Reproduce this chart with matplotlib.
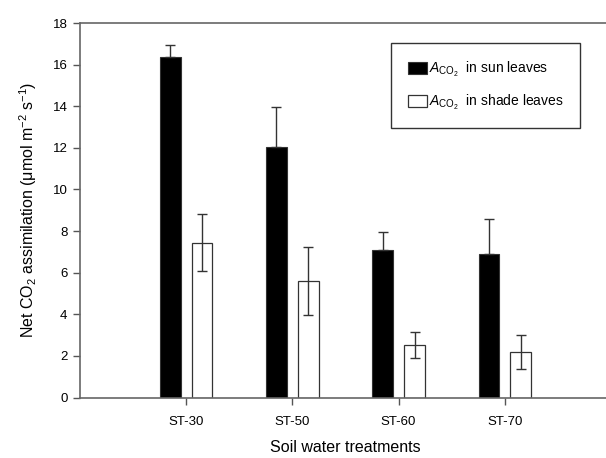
import numpy as np
import matplotlib
matplotlib.use("Agg")
import matplotlib.pyplot as plt

plt.rcParams['font.family'] = ['Liberation Sans', 'DejaVu Sans']
plt.rcParams['mathtext.fontset'] = 'custom'
plt.rcParams['mathtext.rm'] = 'Liberation Sans'
plt.rcParams['mathtext.it'] = 'Liberation Sans:italic'

# data
treatments = ["ST-30", "ST-50", "ST-60", "ST-70"]
sun = [16.38, 12.03, 7.11, 6.92]
sun_err = [0.55, 1.92, 0.85, 1.65]
shade = [7.44, 5.6, 2.53, 2.18]
shade_err = [1.38, 1.62, 0.63, 0.81]

x = np.arange(1, len(treatments) + 1)
w = 0.195
off = 0.15

fig = plt.figure(figsize=(6.06, 4.58), dpi=100)
ax = fig.add_axes([80 / 606, 1 - 397.5 / 458, 531 / 606, 374.5 / 458])

ax.bar(x - off, sun, w, color="black", edgecolor="#333333", linewidth=0.8,
       label=r"$A_{\mathrm{CO}_2}$ in sun leaves", zorder=2)
ax.errorbar(x - off, sun, yerr=[np.zeros(len(sun)), sun_err], fmt="none",
            ecolor="#333333", elinewidth=1, capsize=3.6, capthick=1, zorder=3)
ax.bar(x + off, shade, w, color="white", edgecolor="#333333", linewidth=0.9,
       label=r"$A_{\mathrm{CO}_2}$ in shade leaves", zorder=2)
ax.errorbar(x + off, shade, yerr=shade_err, fmt="none",
            ecolor="#333333", elinewidth=1, capsize=3.6, capthick=1, zorder=3)

ax.set_xlim(0, 5)
ax.set_ylim(0, 18)
ax.set_yticks(range(0, 19, 2))
ax.set_xticks(x)
ax.set_xticklabels(treatments)
ax.tick_params(axis="both", direction="out", length=5, width=1, color="#555555",
               labelsize=9.5, pad=4)
ax.tick_params(axis="x", pad=8)
for s in ax.spines.values():
    s.set_color("#666666")
    s.set_linewidth(1.2)

ax.set_xlabel("Soil water treatments", fontsize=11.5, labelpad=9)
ax.set_ylabel(r"Net CO$_2$ assimilation ($\mathrm{\mu}$mol m$^{-2}$ s$^{-1}$)",
              fontsize=11.5, labelpad=10)

leg = ax.legend(loc="upper right", bbox_to_anchor=(580 / 606, 1 - 43 / 458),
                bbox_transform=fig.transFigure, borderaxespad=0, fontsize=10,
                fancybox=False, framealpha=1, edgecolor="#333333",
                handlelength=1.4, handleheight=0.9, handletextpad=0.1,
                borderpad=1.2, labelspacing=1.0)
leg.get_frame().set_linewidth(1)
for t in leg.get_texts():
    t.set_text(t.get_text().replace("$ in", "$  in"))

fig.savefig("out.png", dpi=100)
